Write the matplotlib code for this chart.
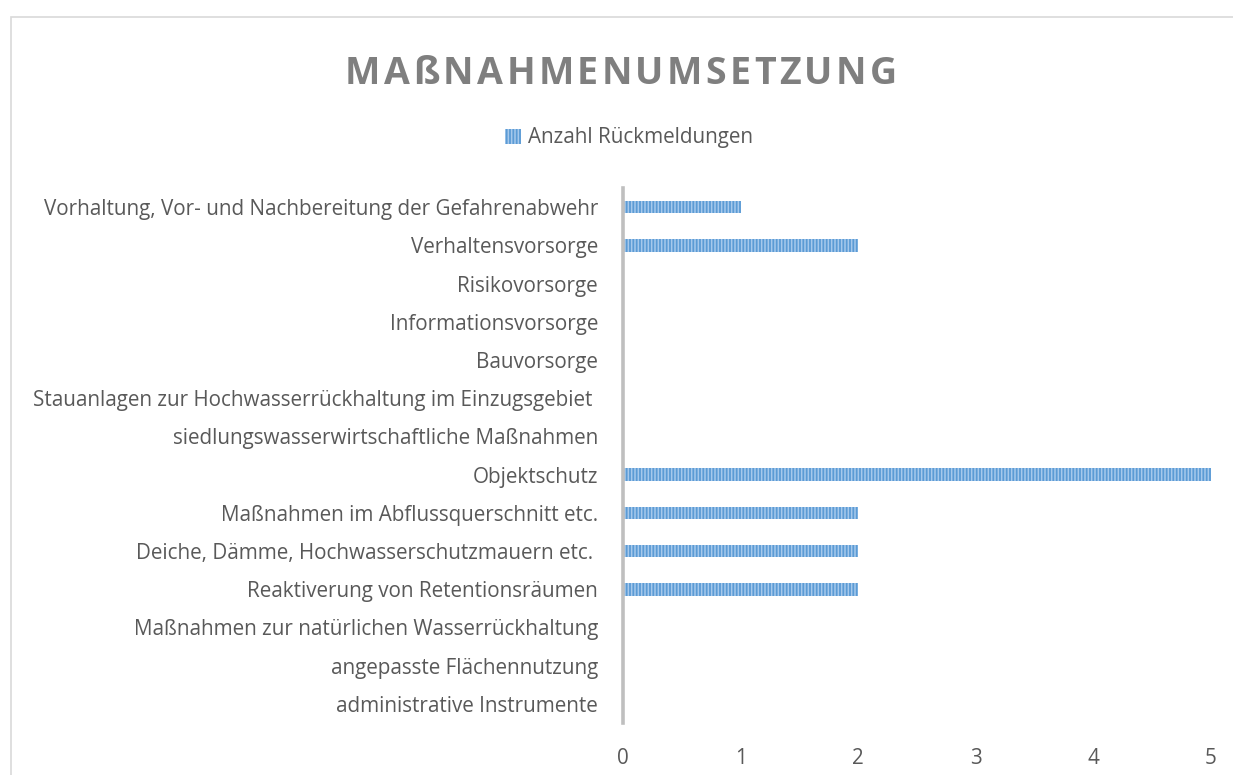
import matplotlib
matplotlib.use("Agg")
import matplotlib.pyplot as plt
from matplotlib.patches import Rectangle, Patch

categories = [
    "Vorhaltung, Vor- und Nachbereitung der Gefahrenabwehr",
    "Verhaltensvorsorge",
    "Risikovorsorge",
    "Informationsvorsorge",
    "Bauvorsorge",
    "Stauanlagen zur Hochwasserrückhaltung im Einzugsgebiet ",
    "siedlungswasserwirtschaftliche Maßnahmen",
    "Objektschutz",
    "Maßnahmen im Abflussquerschnitt etc.",
    "Deiche, Dämme, Hochwasserschutzmauern etc. ",
    "Reaktiverung von Retentionsräumen",
    "Maßnahmen zur natürlichen Wasserrückhaltung",
    "angepasste Flächennutzung",
    "administrative Instrumente",
]
counts = [1, 2, 0, 0, 0, 0, 0, 5, 2, 2, 2, 0, 0, 0]
x_ticks = [0, 1, 2, 3, 4, 5]
series_name = "Anzahl Rückmeldungen"
title = "MAßNAHMENUMSETZUNG"

plt.rcParams["font.family"] = ["Open Sans", "DejaVu Sans"]
plt.rcParams["hatch.linewidth"] = 1.1
text_color = "#595959"
bar_color = "#5B9BD5"
stripe_color = "#A6C9EC"
fs = 14.9

W, H = 1233, 775
fig = plt.figure(figsize=(W / 100, H / 100), dpi=100)

# chart area border (cut off on the right and bottom)
fig.patches.append(Rectangle((11 / W, -0.1), 1.2, 1 - 17 / H + 0.1,
                             transform=fig.transFigure, fill=False,
                             edgecolor="#D9D9D9", linewidth=1.2))

ax = fig.add_axes([623 / W, 52 / H, (1211 - 623) / W, (723 - 188) / H])
ypos = list(range(len(categories)))
ax.barh(ypos, counts, height=0.33, color=bar_color, edgecolor=stripe_color,
        linewidth=0, hatch="|||||")
ax.set_ylim(len(categories) - 0.5, -0.5)
ax.set_xlim(0, 5)
ax.set_yticks(ypos)
ax.set_yticklabels(categories, fontsize=fs, color=text_color)
ax.set_xticks(x_ticks)
ax.set_xticklabels([str(t) for t in x_ticks], fontsize=fs, color=text_color)
ax.tick_params(axis="both", length=0)
ax.tick_params(axis="y", pad=18)
ax.tick_params(axis="x", pad=18)
for s in ["top", "right", "bottom"]:
    ax.spines[s].set_visible(False)
ax.spines["left"].set_color("#BFBFBF")
ax.spines["left"].set_linewidth(2.6)

# legend
handle = Patch(facecolor=bar_color, edgecolor=stripe_color, linewidth=0, hatch="|||||")
fig.legend([handle], [series_name], loc="center", bbox_to_anchor=(629 / W, 1 - 138 / H),
           frameon=False, fontsize=fs, labelcolor=text_color,
           handlelength=0.75, handleheight=0.75, handletextpad=0.35)

# title with letter spacing, drawn character by character
renderer = fig.canvas.get_renderer()
chars = []
widths = []
for ch in title:
    t = fig.text(0, 0, ch, fontsize=27, fontweight="bold", color="#7F7F7F",
                 ha="left", va="baseline")
    widths.append(t.get_window_extent(renderer).width)
    chars.append(t)
target_w = 897 - 345
gap = (target_w - sum(widths)) / (len(title) - 1)
x = 345
for t, w in zip(chars, widths):
    t.set_position((x / W, 1 - 84 / H))
    x += w + gap

fig.savefig("out.png", dpi=100)
